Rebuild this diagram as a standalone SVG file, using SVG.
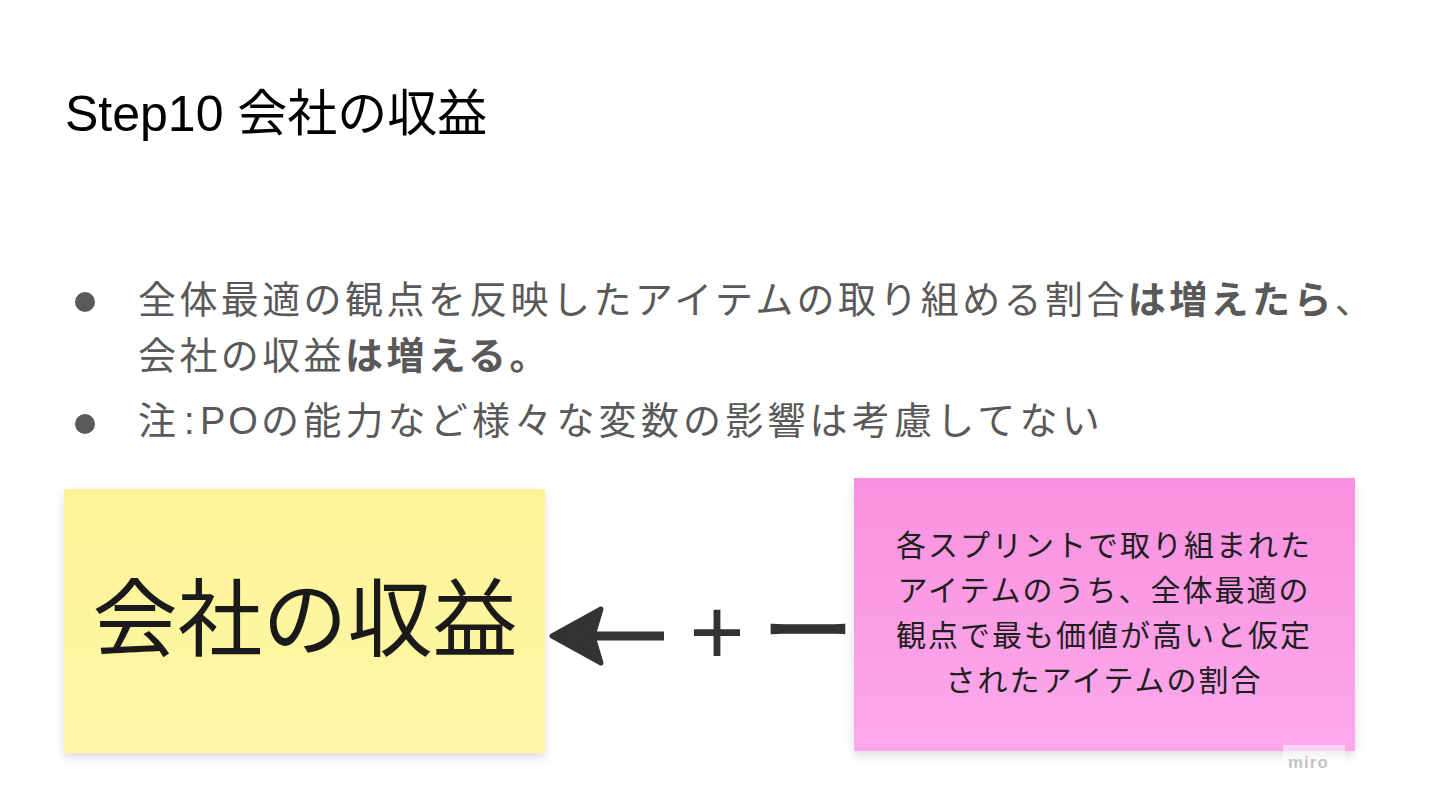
<svg xmlns="http://www.w3.org/2000/svg" width="1440" height="810" viewBox="0 0 1440 810">
  <style>
    .title { font-family: "Liberation Sans", "Noto Sans CJK JP", sans-serif; font-size: 50px; fill: #000000; }
    .bullet-text { font-family: "Liberation Sans", "Noto Sans CJK JP", sans-serif; font-size: 38px; letter-spacing: 3.4px; fill: #595959; }
    .wide { letter-spacing: 4.2px; }
    .tight { letter-spacing: 3px; }
    .b { font-weight: bold; }
    .dot { fill: #595959; }
    .big { font-family: "Noto Sans CJK JP", sans-serif; font-size: 85px; fill: #1a1a1a; text-anchor: middle; }
    .note { font-family: "Noto Sans CJK JP", sans-serif; font-size: 30px; letter-spacing: 2px; fill: #1e1e1e; text-anchor: middle; }
    .sym { fill: #333333; text-anchor: middle; }
    .wm { font-family: "Liberation Sans", "DejaVu Sans", sans-serif; font-size: 17px; font-weight: bold; fill: #c4c4c4; letter-spacing: 1px; }
  </style>
  <defs>
    <linearGradient id="gYellow" x1="0" y1="0" x2="0" y2="1">
      <stop offset="0" stop-color="#fdf497"/>
      <stop offset="1" stop-color="#fff6a8"/>
    </linearGradient>
    <linearGradient id="gPink" x1="0" y1="0" x2="0" y2="1">
      <stop offset="0" stop-color="#f991df"/>
      <stop offset="1" stop-color="#fca9ec"/>
    </linearGradient>
    <filter id="shadow" x="-10%" y="-10%" width="120%" height="130%">
      <feDropShadow dx="0" dy="5" stdDeviation="5" flood-color="#000000" flood-opacity="0.13"/>
    </filter>
    <marker id="arrowHead" viewBox="0 0 58 64" markerWidth="58" markerHeight="64" markerUnits="userSpaceOnUse" refX="11" refY="32" orient="auto">
      <path d="M4,5 L53,32 L4,59 L12,32 Z" fill="#333333" stroke="#333333" stroke-width="5" stroke-linejoin="round"/>
    </marker>
  </defs>

  <rect x="0" y="0" width="1440" height="810" fill="#ffffff"/>

  <g id="title">
    <text class="title" x="65" y="131">Step10 会社の収益</text>
  </g>

  <g id="bullets">
    <circle class="dot" cx="85" cy="302" r="10"/>
    <text class="bullet-text" x="138" y="313">全体最適の観点を反映したアイテムの取り組める割合<tspan class="b">は増えたら</tspan>、</text>
    <text class="bullet-text" x="138" y="369">会社の収益<tspan class="b">は増える。</tspan></text>
    <circle class="dot" cx="85" cy="424" r="10"/>
    <text class="bullet-text" x="138" y="434">注<tspan x="184">:</tspan><tspan class="tight" x="200">PO</tspan><tspan class="wide" x="261">の能力など様々な変数の影響は考慮してない</tspan></text>
  </g>

  <g id="node-revenue">
    <rect x="64" y="489" width="481" height="264" fill="url(#gYellow)" filter="url(#shadow)"/>
    <text class="big" x="305" y="650">会社の収益</text>
  </g>

  <g id="node-ratio">
    <rect x="854" y="478" width="501" height="273" fill="url(#gPink)" filter="url(#shadow)"/>
    <text class="note" x="1104" y="556">各スプリントで取り組まれた</text>
    <text class="note" x="1104" y="601">アイテムのうち、全体最適の</text>
    <text class="note" x="1104" y="646">観点で最も価値が高いと仮定</text>
    <text class="note" x="1104" y="691">されたアイテムの割合</text>
  </g>

  <g id="connectors">
    <line x1="664" y1="636" x2="594" y2="636" stroke="#333333" stroke-width="9" marker-end="url(#arrowHead)"/>
    <text class="sym" x="717" y="664" style="font-family: 'Liberation Sans', sans-serif; font-size: 95px;">+</text>
    <text class="sym" x="808" y="664" style="font-family: 'Noto Sans CJK JP', sans-serif; font-size: 92px;" stroke="#333333" stroke-width="1.5">ー</text>
  </g>

  <g id="watermark">
    <rect x="1283" y="745" width="62" height="26" fill="#ffffff" opacity="0.5"/>
    <text class="wm" x="1288" y="768">miro</text>
  </g>
</svg>
